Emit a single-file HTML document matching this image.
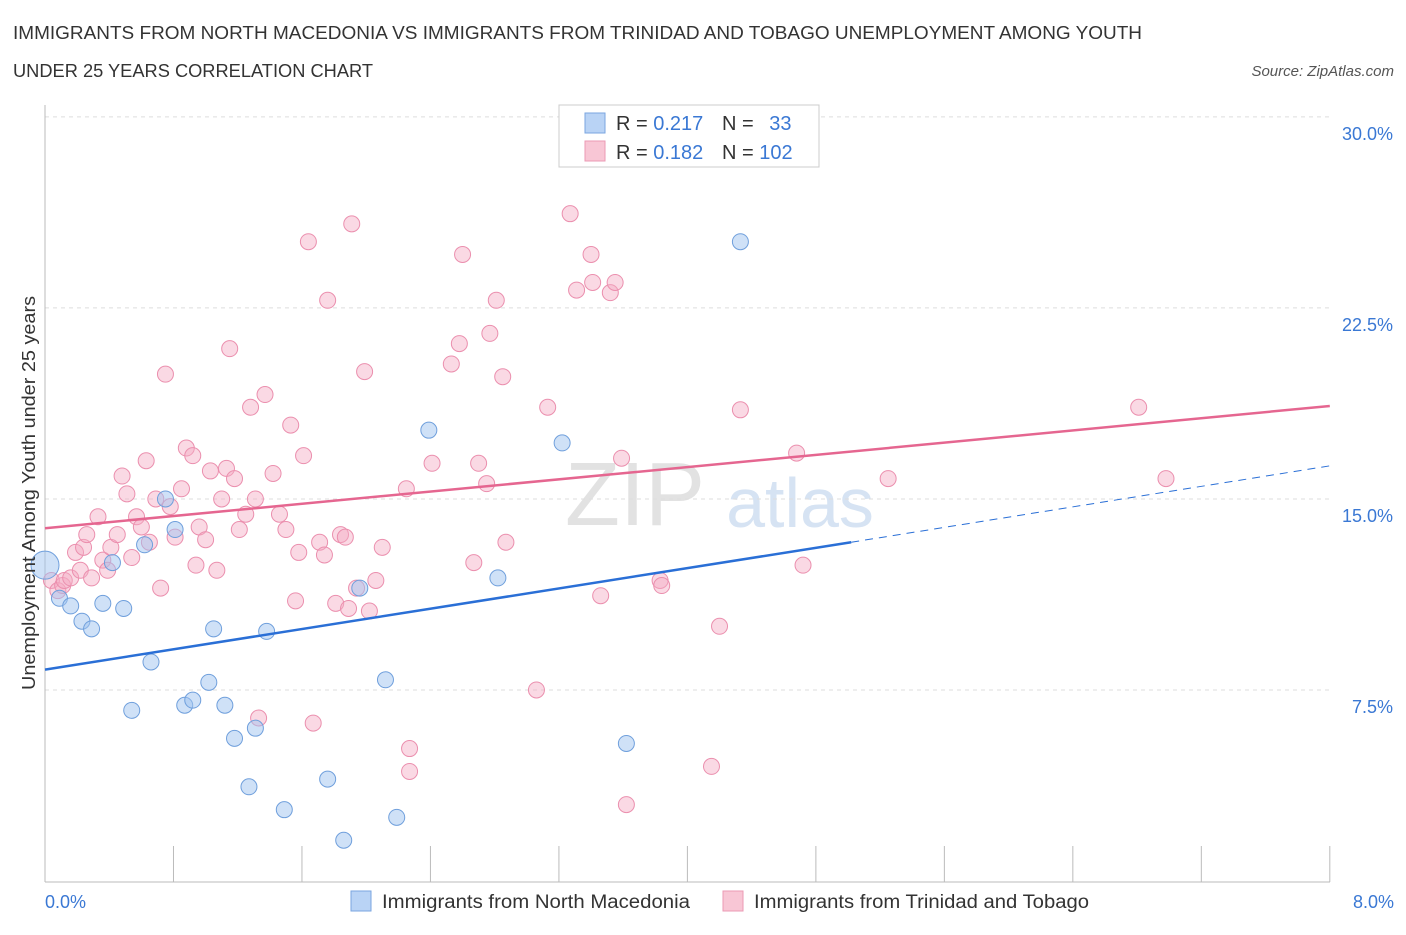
<!DOCTYPE html>
<html><head><meta charset="utf-8"><style>
body{margin:0;background:#fff;font-family:"Liberation Sans",sans-serif;}
svg text{font-family:"Liberation Sans",sans-serif;}
</style></head><body>
<svg id="c" width="1406" height="930">
<text x="13" y="39" font-size="18" fill="#333" textLength="1129" lengthAdjust="spacingAndGlyphs">IMMIGRANTS FROM NORTH MACEDONIA VS IMMIGRANTS FROM TRINIDAD AND TOBAGO UNEMPLOYMENT AMONG YOUTH</text>
<text x="13" y="77" font-size="18" fill="#333" textLength="360" lengthAdjust="spacingAndGlyphs">UNDER 25 YEARS CORRELATION CHART</text>
<text x="1394" y="76" font-size="15" fill="#555" font-style="italic" text-anchor="end">Source: ZipAtlas.com</text>
<text x="635" y="525" font-size="90" fill="#e2e2e2" font-family="Liberation Serif" text-anchor="middle">ZIP</text>
<text x="800" y="527" font-size="70" fill="#d6e3f3" text-anchor="middle">atlas</text>
<g id="grid"></g><g id="axes"></g><g id="marks"></g>
<text x="35" y="493" font-size="18" fill="#333" text-anchor="middle" textLength="394" lengthAdjust="spacingAndGlyphs" transform="rotate(-90 35 493)">Unemployment Among Youth under 25 years</text>
<text x="45" y="908" font-size="18" fill="#3a78d4">0.0%</text>
<text x="1394" y="908" font-size="18" fill="#3a78d4" text-anchor="end">8.0%</text>
<g>
<rect x="559" y="105" width="260" height="62" fill="#fff" stroke="#ccc"/>
<rect x="585" y="113" width="20" height="20" fill="#b9d3f5" stroke="#7aa6e0"/>
<rect x="585" y="141" width="20" height="20" fill="#f8c6d5" stroke="#eb9ab4"/>
<text x="616" y="130" font-size="20" fill="#333">R = <tspan fill="#3a78d4">0.217</tspan></text>
<text x="722" y="130" font-size="20" fill="#333">N = <tspan fill="#3a78d4" dx="10">33</tspan></text>
<text x="616" y="159" font-size="20" fill="#333">R = <tspan fill="#3a78d4">0.182</tspan></text>
<text x="722" y="159" font-size="20" fill="#333">N = <tspan fill="#3a78d4">102</tspan></text>
</g>
<g>
<rect x="351" y="891" width="20" height="20" fill="#b9d3f5" stroke="#7aa6e0"/>
<text x="382" y="908" font-size="19" fill="#333" textLength="308" lengthAdjust="spacingAndGlyphs">Immigrants from North Macedonia</text>
<rect x="723" y="891" width="20" height="20" fill="#f8c6d5" stroke="#eb9ab4"/>
<text x="754" y="908" font-size="19" fill="#333" textLength="335" lengthAdjust="spacingAndGlyphs">Immigrants from Trinidad and Tobago</text>
</g>
</svg>
<script>
const yTicks=[7.5,15,22.5,30];
const yTickLabels=["7.5%","15.0%","22.5%","30.0%"];
const xTicks=[0,0.8,1.6,2.4,3.2,4,4.8,5.6,6.4,7.2,8];
const blueX=[0.0,0.09,0.16,0.23,0.29,0.36,0.42,0.49,0.54,0.62,0.66,0.75,0.81,0.87,0.92,1.02,1.05,1.12,1.18,1.27,1.31,1.38,1.49,1.76,1.86,1.96,2.12,2.19,2.39,2.82,3.22,3.62,4.33];
const blueY=[12.4,11.1,10.8,10.2,9.9,10.9,12.5,10.7,6.7,13.2,8.6,15.0,13.8,6.9,7.1,7.8,9.9,6.9,5.6,3.7,6.0,9.8,2.8,4.0,1.6,11.5,7.9,2.5,17.7,11.9,17.2,5.4,25.1];
const pinkX=[0.04,0.08,0.11,0.12,0.16,0.19,0.22,0.24,0.26,0.29,0.33,0.36,0.39,0.41,0.45,0.48,0.51,0.54,0.57,0.6,0.63,0.65,0.69,0.72,0.75,0.78,0.81,0.85,0.88,0.92,0.94,0.96,1.0,1.03,1.07,1.1,1.13,1.15,1.18,1.21,1.25,1.28,1.31,1.33,1.37,1.42,1.46,1.5,1.53,1.56,1.58,1.61,1.64,1.67,1.71,1.74,1.76,1.81,1.84,1.87,1.89,1.91,1.94,1.99,2.02,2.06,2.1,2.25,2.27,2.27,2.41,2.53,2.58,2.6,2.67,2.7,2.75,2.77,2.81,2.85,2.87,3.06,3.13,3.27,3.31,3.4,3.41,3.46,3.52,3.55,3.59,3.62,3.83,3.84,4.15,4.2,4.33,4.68,4.72,5.25,6.81,6.98];
const pinkY=[11.8,11.4,11.6,11.8,11.9,12.9,12.2,13.1,13.6,11.9,14.3,12.6,12.2,13.1,13.6,15.9,15.2,12.7,14.3,13.9,16.5,13.3,15.0,11.5,19.9,14.7,13.5,15.4,17.0,16.7,12.4,13.9,13.4,16.1,12.2,15.0,16.2,20.9,15.8,13.8,14.4,18.6,15.0,6.4,19.1,16.0,14.4,13.8,17.9,11.0,12.9,16.7,25.1,6.2,13.3,12.8,22.8,10.9,13.6,13.5,10.7,25.8,11.5,20.0,10.6,11.8,13.1,15.4,5.2,4.3,16.4,20.3,21.1,24.6,12.5,16.4,15.6,21.5,22.8,19.8,13.3,7.5,18.6,26.2,23.2,24.6,23.5,11.2,23.1,23.5,16.6,3.0,11.8,11.6,4.5,10.0,18.5,16.8,12.4,15.8,18.6,15.8];
const blueFit=[8.3,0,13.3,5.02,16.3,8];
const pinkFit=[13.85,0,18.65,8];
const NS="http://www.w3.org/2000/svg";
const X=v=>45+v*160.6, Y=v=>881-v*25.47;
function mk(t,a,p){const e=document.createElementNS(NS,t);for(const k in a)e.setAttribute(k,a[k]);document.getElementById(p).appendChild(e);return e;}
yTicks.forEach((t,i)=>{
 const g=mk('line',{x1:45,x2:1330,y1:Y(t),y2:Y(t),stroke:'#ddd','stroke-dasharray':'4,4'},'grid');
 
 
 const l=mk('text',{x:1393,y:Y(t)+23,'font-size':18,fill:'#3a78d4','text-anchor':'end'},'grid');l.textContent=yTickLabels[i];
 
 
});
const ax=mk('line',{x1:45,x2:1330,y1:882,y2:882,stroke:'#bbb'},'axes');


const ay=mk('line',{x1:45,x2:45,y1:105,y2:882,stroke:'#bbb'},'axes');


xTicks.forEach(t=>{const e=mk('line',{x1:X(t),x2:X(t),y1:846,y2:882,stroke:'#bbb'},'axes');
 
 });
pinkX.forEach((x,i)=>{const c=mk('circle',{cx:X(x),cy:Y(pinkY[i]),r:8,fill:'rgba(245,170,195,0.45)',stroke:'#eb8fae','stroke-width':1},'marks');
 
 });
blueX.forEach((x,i)=>{const c=mk('circle',{cx:X(x),cy:Y(blueY[i]),r:i==0?14:8,fill:'rgba(160,195,240,0.5)',stroke:'#6f9fdc','stroke-width':1},'marks');
 
 });
const bl=mk('line',{x1:X(blueFit[1]),y1:Y(blueFit[0]),x2:X(blueFit[3]),y2:Y(blueFit[2]),stroke:'#2a6fd6','stroke-width':2.5},'marks');


const bd=mk('line',{x1:X(blueFit[3]),y1:Y(blueFit[2]),x2:X(blueFit[5]),y2:Y(blueFit[4]),stroke:'#2a6fd6','stroke-width':1,'stroke-dasharray':'8,6'},'marks');


const pl=mk('line',{x1:X(pinkFit[1]),y1:Y(pinkFit[0]),x2:X(pinkFit[3]),y2:Y(pinkFit[2]),stroke:'#e56690','stroke-width':2.5},'marks');


</script>
</body></html>
